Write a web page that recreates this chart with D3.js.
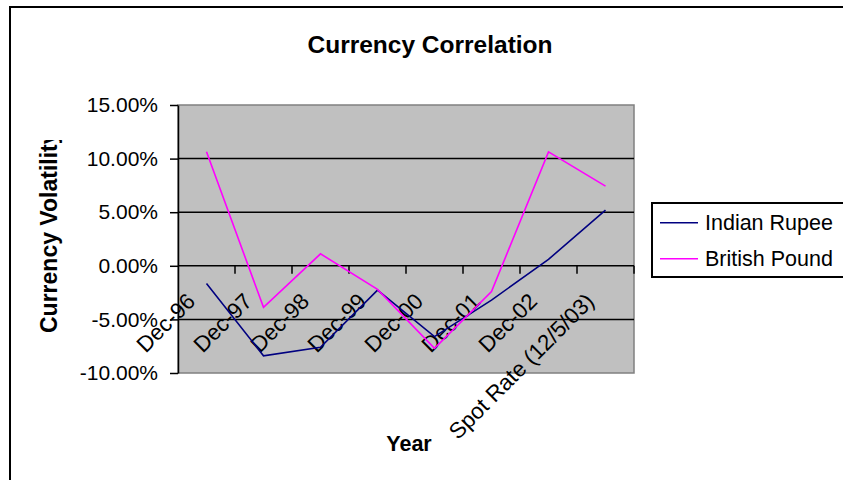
<!DOCTYPE html>
<html>
<head>
<meta charset="utf-8">
<script src="https://cdn.jsdelivr.net/npm/d3@7/dist/d3.min.js"></script>
<style>
  html, body { margin: 0; padding: 0; background: #fff; }
  svg { display: block; font-family: "Liberation Sans", Arial, sans-serif; }
</style>
</head>
<body>
<svg id="chart" width="843" height="480"></svg>
<script>
const categories = ["Dec-96", "Dec-97", "Dec-98", "Dec-99", "Dec-00", "Dec-01", "Dec-02", "Spot Rate (12/5/03)"];
const indianRupee = [-1.65, -8.4, -7.6, -2.27, -6.6, -3.2, 0.6, 5.2];
const britishPound = [10.63, -3.88, 1.12, -2.2, -7.7, -2.4, 10.63, 7.43];
const yTicks = [15, 10, 5, 0, -5, -10];
const seriesNames = ["Indian Rupee", "British Pound"];
const seriesColors = ["#000080", "#FF00FF"];

const svg = d3.select("#chart");
const W = 843, H = 480;
const plot = { left: 178, right: 634, top: 105, bottom: 373 };

// outer chart border
svg.append("rect").attr("x", 10).attr("y", 7).attr("width", W + 20).attr("height", H + 20)
  .attr("fill", "#fff").attr("stroke", "#000").attr("stroke-width", 2);

const x = d3.scaleBand().domain(categories).range([plot.left, plot.right]).padding(0);
const y = d3.scaleLinear().domain([-10, 15]).range([plot.bottom, plot.top]);

// plot area
svg.append("rect").attr("x", plot.left).attr("y", plot.top)
  .attr("width", plot.right - plot.left).attr("height", plot.bottom - plot.top)
  .attr("fill", "#C0C0C0").attr("stroke", "#808080").attr("stroke-width", 1.5);

// gridlines
svg.append("g").selectAll("line").data(yTicks.filter(d => d !== 15 && d !== -10)).join("line")
  .attr("x1", plot.left).attr("x2", plot.right)
  .attr("y1", d => y(d)).attr("y2", d => y(d))
  .attr("stroke", "#000").attr("stroke-width", 1.5);

// y axis
const yAxis = d3.axisLeft(y).tickValues(yTicks).tickFormat(d => d.toFixed(2) + "%")
  .tickSizeInner(8).tickSizeOuter(0).tickPadding(12);
const gy = svg.append("g").attr("transform", `translate(${plot.left},0)`).call(yAxis);
gy.select(".domain").attr("stroke", "#000").attr("stroke-width", 1.5);
gy.selectAll(".tick line").attr("stroke", "#000").attr("stroke-width", 1.5);
gy.selectAll(".tick text").attr("font-size", 21).attr("fill", "#000")
  .attr("font-family", "Liberation Sans, Arial, sans-serif");

// x axis at zero
const y0 = y(0);
svg.append("g").selectAll("line").data(categories).join("line")
  .attr("x1", d => x(d) + x.bandwidth()).attr("x2", d => x(d) + x.bandwidth())
  .attr("y1", y0).attr("y2", y0 + 8)
  .attr("stroke", "#000").attr("stroke-width", 1.5);

// x labels
svg.append("g").selectAll("text").data(categories).join("text")
  .attr("transform", d => `translate(${x(d) + x.bandwidth() / 2 - 10},${y0 + 37}) rotate(-45)`)
  .attr("text-anchor", "end")
  .attr("font-size", 22.3).attr("fill", "#000")
  .text(d => d);

// lines
const line = d3.line().x((d, i) => x(categories[i]) + x.bandwidth() / 2).y(d => y(d));
[indianRupee, britishPound].forEach((s, i) => {
  svg.append("path").datum(s).attr("d", line)
    .attr("fill", "none").attr("stroke", seriesColors[i]).attr("stroke-width", 1.6);
});

// title
svg.append("text").attr("x", 430).attr("y", 53).attr("text-anchor", "middle")
  .attr("font-size", 24.5).attr("font-weight", "bold").text("Currency Correlation");

// y axis title (clipped at the top)
svg.append("clipPath").attr("id", "ytclip").append("rect")
  .attr("x", 0).attr("y", 140).attr("width", 120).attr("height", 300);
svg.append("g").attr("clip-path", "url(#ytclip)")
  .append("text")
  .attr("transform", `translate(57,333) rotate(-90)`)
  .attr("text-anchor", "start")
  .attr("font-size", 23).attr("font-weight", "bold").text("Currency Volatility");

// x axis title
svg.append("text").attr("x", 409).attr("y", 451).attr("text-anchor", "middle")
  .attr("font-size", 21.5).attr("font-weight", "bold").text("Year");

// legend
const lg = svg.append("g");
lg.append("rect").attr("x", 652).attr("y", 203).attr("width", 220).attr("height", 74)
  .attr("fill", "#fff").attr("stroke", "#000").attr("stroke-width", 2);
seriesNames.forEach((n, i) => {
  const ly = 222.7 + i * 36;
  lg.append("line").attr("x1", 660).attr("x2", 698).attr("y1", ly).attr("y2", ly)
    .attr("stroke", seriesColors[i]).attr("stroke-width", 1.6);
  lg.append("text").attr("x", 705).attr("y", ly).attr("dy", "0.35em")
    .attr("font-size", 21.5).attr("fill", "#000").text(n);
});
</script>
</body>
</html>
